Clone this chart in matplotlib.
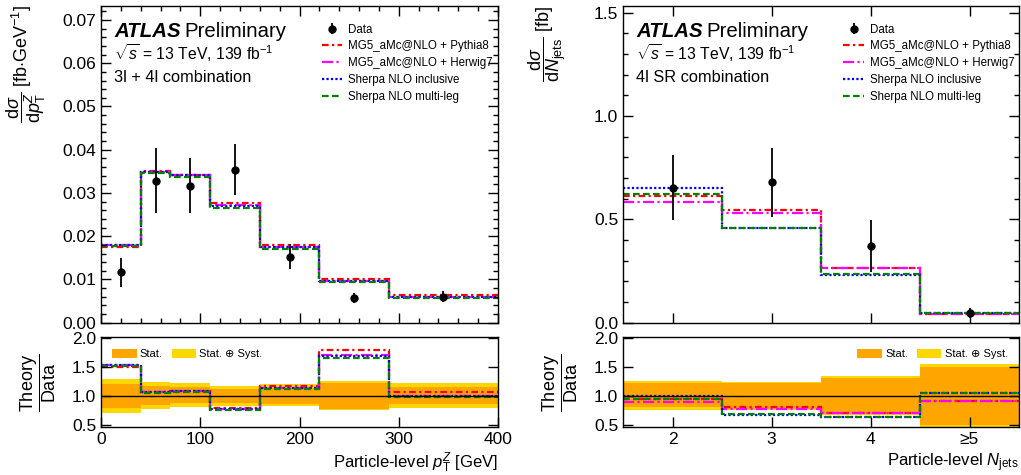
import numpy as np
import matplotlib
matplotlib.use("Agg")
import matplotlib.pyplot as plt
from matplotlib.ticker import MultipleLocator, FixedLocator, FormatStrFormatter, NullLocator
from matplotlib.lines import Line2D

plt.rcParams['font.family'] = ['Liberation Sans', 'DejaVu Sans']
plt.rcParams['mathtext.fontset'] = 'custom'
plt.rcParams['mathtext.rm'] = 'Liberation Sans'
plt.rcParams['mathtext.it'] = 'Liberation Sans:italic'
plt.rcParams['mathtext.bf'] = 'Liberation Sans:bold'

# ---------------- data: pT^Z ----------------
pt_edges = [0, 40, 70, 110, 160, 220, 290, 400]
pt_data = [0.01164, 0.0328, 0.0316, 0.0353, 0.01527, 0.00564, 0.00594]
pt_err_up = [0.0034, 0.0077, 0.0064, 0.0060, 0.0029, 0.0013, 0.0013]
pt_err_dn = [0.0033, 0.0075, 0.0062, 0.0058, 0.0028, 0.0012, 0.0011]
pt_pythia = [0.01746, 0.0351, 0.0341, 0.0276, 0.0179, 0.0101, 0.00636]
pt_herwig = [0.0180, 0.0349, 0.0341, 0.0272, 0.0175, 0.0097, 0.0059]
pt_sherpa_inc = [0.0180, 0.0349, 0.0341, 0.0270, 0.0174, 0.0096, 0.0059]
pt_sherpa_ml = [0.0177, 0.0347, 0.0337, 0.0265, 0.0171, 0.0094, 0.0058]
pt_stat_hi = [1.20, 1.17, 1.16, 1.12, 1.14, 1.23, 1.16]
pt_stat_lo = [0.79, 0.85, 0.87, 0.87, 0.86, 0.78, 0.86]
pt_tot_hi = [1.30, 1.25, 1.22, 1.18, 1.20, 1.26, 1.23]
pt_tot_lo = [0.71, 0.77, 0.80, 0.83, 0.82, 0.75, 0.79]

# ---------------- data: Njets ----------------
nj_edges = [1.5, 2.5, 3.5, 4.5, 5.5]
nj_labels = ['2', '3', '4', '≥5']
nj_data = [0.653, 0.679, 0.371, 0.047]
nj_err_up = [0.158, 0.165, 0.126, 0.022]
nj_err_dn = [0.156, 0.166, 0.124, 0.022]
nj_pythia = [0.613, 0.544, 0.263, 0.043]
nj_herwig = [0.582, 0.529, 0.263, 0.043]
nj_sherpa_inc = [0.650, 0.458, 0.233, 0.049]
nj_sherpa_ml = [0.623, 0.460, 0.234, 0.049]
nj_stat_hi = [1.23, 1.23, 1.32, 1.51]
nj_stat_lo = [0.80, 0.77, 0.68, 0.49]
nj_tot_hi = [1.26, 1.25, 1.34, 1.55]
nj_tot_lo = [0.76, 0.75, 0.66, 0.45]

labels = ['MG5_aMc@NLO + Pythia8', 'MG5_aMc@NLO + Herwig7',
          'Sherpa NLO inclusive', 'Sherpa NLO multi-leg']
colors = ['#ff0000', '#ff00ff', '#0000ff', '#008000']
styles = [(0, (3, 1.5, 1, 1.5)), (0, (5, 1.5, 1, 1.5)), (0, (1, 1)), (0, (3, 1.5))]

W, H = 1021, 475
fig = plt.figure(figsize=(W / 100, H / 100), dpi=100)


def px_axes(x0, x1, ytop, ybot):
    return fig.add_axes([x0 / W, 1 - ybot / H, (x1 - x0) / W, (ybot - ytop) / H])


def style_axes(ax, minor_x=None, minor_y=None, top=True):
    ax.tick_params(which='both', direction='in', top=top, right=True,
                   labelsize=12.5, width=1.0)
    ax.tick_params(which='major', length=7.5)
    ax.tick_params(which='minor', length=3.8)
    for s in ax.spines.values():
        s.set_linewidth(1.0)
    if minor_x:
        ax.xaxis.set_minor_locator(MultipleLocator(minor_x))
    if minor_y:
        ax.yaxis.set_minor_locator(MultipleLocator(minor_y))


def draw_panel(xm0, xm1, edges, data, eup, edn, theories, stat_hi, stat_lo,
               tot_hi, tot_lo, ylim, ymaj, ymin_, xmin_, tag, ratio_leg_loc):
    axm = px_axes(xm0, xm1, 5.7, 322.7)
    axr = px_axes(xm0, xm1, 336.7, 427.0)
    edges = np.asarray(edges, float)
    centers = 0.5 * (edges[:-1] + edges[1:])
    data = np.asarray(data)
    for th, c, ls in zip(theories, colors, styles):
        axm.stairs(th, edges, baseline=None, color=c, ls=ls, lw=1.6)
    axm.errorbar(centers, data, yerr=[edn, eup], fmt='o', color='black',
                 ms=5, elinewidth=1.3, capsize=0, zorder=5)
    axm.set_xlim(edges[0], edges[-1])
    axm.set_ylim(*ylim)
    axm.yaxis.set_major_locator(MultipleLocator(ymaj))
    style_axes(axm, minor_x=xmin_, minor_y=ymin_)
    axm.tick_params(labelbottom=False)

    # text
    axm.text(0.033, 0.901, 'ATLAS', transform=axm.transAxes, fontsize=14.7,
             fontweight='bold', style='italic', va='baseline')
    axm.annotate('Preliminary', xy=(0.033, 0.901), xycoords='axes fraction',
                 xytext=(70, 0), textcoords='offset pixels', fontsize=14.7,
                 va='baseline')
    axm.text(0.033, 0.829, r'$\sqrt{s}$ = 13 TeV, 139 fb$^{-1}$',
             transform=axm.transAxes, fontsize=11.3, va='baseline')
    axm.text(0.033, 0.759, tag, transform=axm.transAxes, fontsize=11.8,
             va='baseline')

    handles = [axm.errorbar([], [], yerr=[[], []], fmt='o', color='black',
                            ms=5, elinewidth=1.3, capsize=0)]
    for c, ls in zip(colors, styles):
        handles.append(Line2D([], [], color=c, ls=ls, lw=1.6))
    axm.legend(handles, ['Data'] + labels, loc='upper left',
               bbox_to_anchor=(0.545, 0.958), frameon=False, fontsize=8.3,
               handlelength=1.75, handletextpad=0.55, labelspacing=0.42,
               borderaxespad=0.0)

    # ratio
    axr.stairs(tot_hi, edges, baseline=tot_lo, fill=True, color='#ffd700',
               lw=0, label='Stat. ⊕ Syst.')
    axr.stairs(stat_hi, edges, baseline=stat_lo, fill=True, color='#ffa500',
               lw=0, label='Stat.')
    axr.axhline(1.0, color='black', lw=1.0)
    for th, c, ls in zip(theories, colors, styles):
        axr.stairs(np.asarray(th) / data, edges, baseline=None, color=c,
                   ls=ls, lw=1.6)
    axr.set_xlim(edges[0], edges[-1])
    axr.set_ylim(0.46, 2.03)
    axr.yaxis.set_major_locator(FixedLocator([0.5, 1.0, 1.5, 2.0]))
    axr.set_yticklabels(['0.5', '1.0', '1.5', '2.0'])
    style_axes(axr, top=False)
    h, l = axr.get_legend_handles_labels()
    axr.legend(h[::-1], l[::-1], loc=ratio_leg_loc, ncol=2, frameon=False,
               fontsize=8, handlelength=2.2, handleheight=0.9,
               handletextpad=0.3, columnspacing=0.8,
               bbox_to_anchor=(0.0, 0.0, 1.0, 0.99), borderaxespad=0.6)
    return axm, axr


axm1, axr1 = draw_panel(101, 498, pt_edges, pt_data, pt_err_up, pt_err_dn,
                        [pt_pythia, pt_herwig, pt_sherpa_inc, pt_sherpa_ml],
                        pt_stat_hi, pt_stat_lo, pt_tot_hi, pt_tot_lo,
                        (0, 0.0733), 0.01, 0.002, 20,
                        '3l + 4l combination', 'upper left')
axm1.yaxis.set_major_formatter(FormatStrFormatter('%.2f'))
axm1.xaxis.set_major_locator(MultipleLocator(100))
axr1.set_xticks([0, 100, 200, 300, 400])
axr1.set_xlabel(r'Particle-level $p_{\mathrm{T}}^{Z}$ [GeV]', fontsize=12,
                loc='right', labelpad=3)

axm2, axr2 = draw_panel(623, 1019, nj_edges, nj_data, nj_err_up, nj_err_dn,
                        [nj_pythia, nj_herwig, nj_sherpa_inc, nj_sherpa_ml],
                        nj_stat_hi, nj_stat_lo, nj_tot_hi, nj_tot_lo,
                        (0, 1.534), 0.5, 0.1, None,
                        '4l SR combination', 'upper right')
axm2.yaxis.set_major_formatter(FormatStrFormatter('%.1f'))
for ax in (axm2, axr2):
    ax.set_xticks([2, 3, 4, 5])
    ax.xaxis.set_minor_locator(NullLocator())
axr2.set_xticklabels(nj_labels)
axr2.set_xlabel(r'Particle-level $N_{\mathrm{jets}}$', fontsize=12,
                loc='right', labelpad=3)

# y labels
fig.text(48 / W, 1 - 5 / H,
         r'$\dfrac{\mathrm{d}\sigma}{\mathrm{d}p_{\mathrm{T}}^{Z}}$ [fb$\cdot$GeV$^{-1}$]',
         rotation=90, ha='right', va='top', fontsize=13)
fig.text(568 / W, 1 - 6 / H,
         r'$\dfrac{\mathrm{d}\sigma}{\mathrm{d}N_{\mathrm{jets}}}$ [fb]',
         rotation=90, ha='right', va='top', fontsize=13)
for xr in (58, 580):
    fig.text(xr / W, 1 - 383 / H, r'$\dfrac{\mathrm{Theory}}{\mathrm{Data}}$',
             rotation=90, ha='right', va='center', fontsize=13)

fig.savefig('out.png', dpi=100)
